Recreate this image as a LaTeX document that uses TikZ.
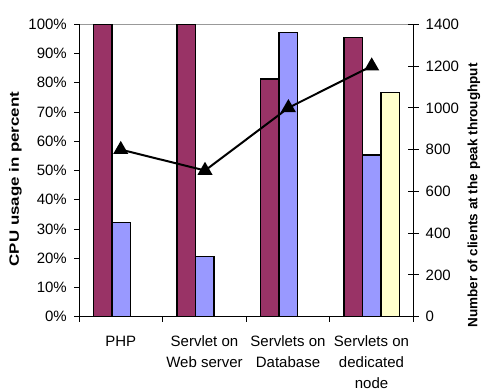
\documentclass[tikz,border=0pt]{standalone}
\usepackage{fontspec}
\setmainfont{Liberation Sans}
\usetikzlibrary{shapes.geometric}
\definecolor{barred}{HTML}{993366}
\definecolor{barblue}{HTML}{9999FF}
\definecolor{baryellow}{HTML}{FFFFCC}
\definecolor{gridgray}{HTML}{999999}
\begin{document}
\begin{tikzpicture}[x=1bp,y=-1bp,
  bar/.style={draw=black,line width=1.5bp},
  axisline/.style={draw=black,line width=0.9bp},
  ticklbl/.style={font=\fontsize{15bp}{18bp}\selectfont,inner sep=0pt},
  catlbl/.style={font=\fontsize{15bp}{21bp}\selectfont,inner sep=0pt,align=center,anchor=north},
  axtitle/.style={font=\bfseries\fontsize{13.5bp}{16bp}\selectfont,inner sep=0pt,rotate=90},
  marker/.style={regular polygon,regular polygon sides=3,fill=black,draw=none,minimum size=17.5bp,inner sep=0pt},
  series/.style={draw=black,line width=2bp}]
\useasboundingbox (0,0) rectangle (484,391);
% top gridline
\draw[gridgray,line width=1.3bp] (79,24.3) -- (413.3,24.3);
% bars
\filldraw[bar,fill=barred]    (93.3,316.7) rectangle (111.9,24.3);
\filldraw[bar,fill=barblue]   (111.9,316.7) rectangle (130.5,222.6);
\filldraw[bar,fill=barred]    (176.8,316.7) rectangle (195.4,24.3);
\filldraw[bar,fill=barblue]   (195.4,316.7) rectangle (214,256.7);
\filldraw[bar,fill=barred]    (260.3,316.7) rectangle (278.9,79);
\filldraw[bar,fill=barblue]   (278.9,316.7) rectangle (297.5,32.3);
\filldraw[bar,fill=barred]    (343.8,316.7) rectangle (362.4,37.3);
\filldraw[bar,fill=barblue]   (362.4,316.7) rectangle (381,155);
\filldraw[bar,fill=baryellow] (381,316.7) rectangle (399.6,92.7);
% axes
\draw[axisline] (79,24.3) -- (79,316.7) -- (413.3,316.7);
\draw[axisline] (413.3,24.3) -- (413.3,316.7);
% left ticks and labels
\foreach \v [count=\i from 0] in {0,10,...,100} {
  \pgfmathsetmacro{\yy}{316.7-2.924*\v}
  \draw[axisline] (74,\yy) -- (79,\yy);
  \node[ticklbl,anchor=east] (l\i) at (67,\yy) {\v\%};
}
% right ticks and labels
\foreach \v [count=\i from 0] in {0,200,...,1400} {
  \pgfmathsetmacro{\yy}{316.7-0.208857*\v}
  \draw[axisline] (408,\yy) -- (419,\yy);
  \node[ticklbl,anchor=west] (r\i) at (425.5,\yy) {\v};
}
% category ticks
\foreach \xx in {79,162.5,246,329.5,413.3} {
  \draw[axisline] (\xx,316.7) -- (\xx,321.5);
}
% category labels
\node[catlbl] (c1) at (120.75,335.5) {PHP};
\node[catlbl] (c2) at (204.5,335.5) {Servlet on\\Web server};
\node[catlbl] (c3) at (288,335.5) {Servlets on\\Database};
\node[catlbl] (c4) at (371.5,335.5) {Servlets on\\dedicated\\node};
% axis titles
\node[axtitle] (yl) at (15.5,179) {\scalebox{1.25}[1]{CPU usage in percent}};
\node[axtitle] (yr) at (474,195.5) {Number of clients at the peak throughput};
% line series
\coordinate (p1) at (120.75,149.6);
\coordinate (p2) at (205,170.5);
\coordinate (p3) at (288.4,107.8);
\coordinate (p4) at (371.7,66.1);
\draw[series] (p1) -- (p2) -- (p3) -- (p4);
\foreach \p in {p1,p2,p3,p4} {
  \node[marker] (m\p) at (\p) {};
}
\end{tikzpicture}
\end{document}
